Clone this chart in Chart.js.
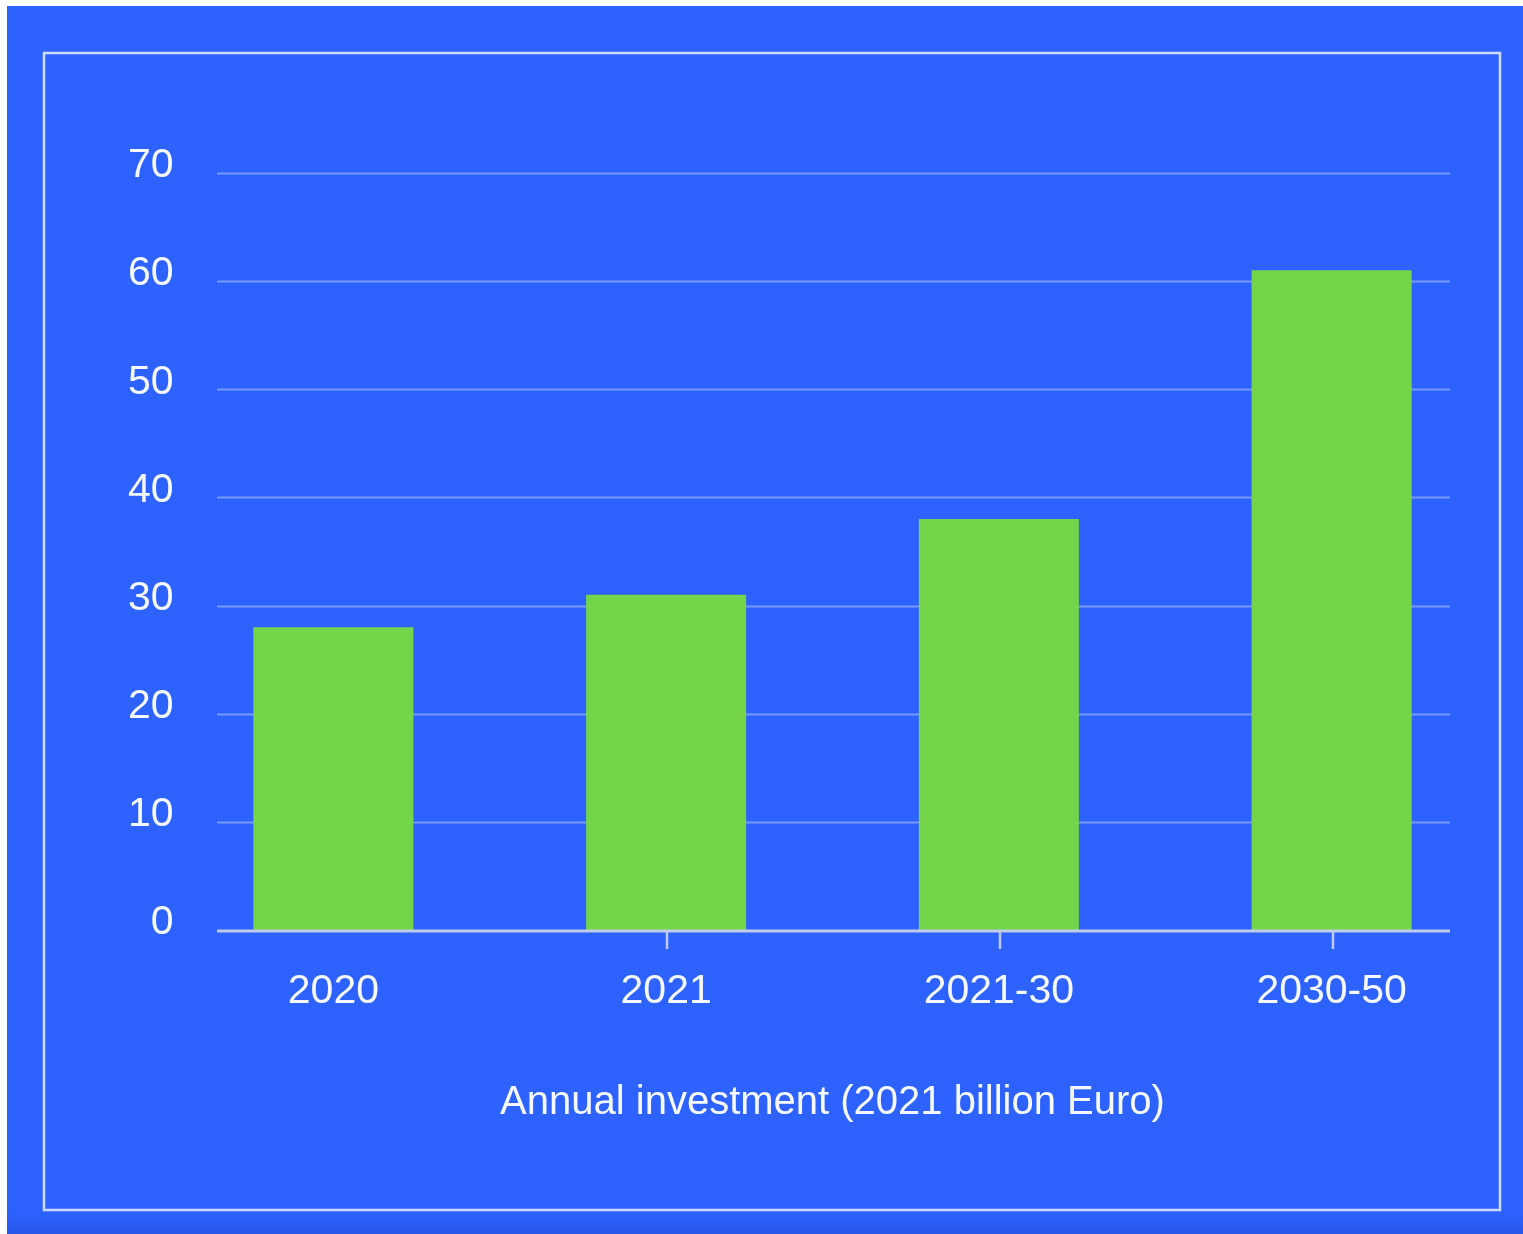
<!DOCTYPE html>
<html>
<head>
<meta charset="utf-8">
<title>Annual investment</title>
<script src="https://cdn.jsdelivr.net/npm/chart.js@4.4.1/dist/chart.umd.min.js"></script>
<style>
  html, body { margin: 0; padding: 0; background: #ffffff; }
  #wrap { position: relative; width: 1523px; height: 1234px; }
</style>
</head>
<body>
<div id="wrap"><canvas id="myChart"></canvas></div>
<script>
// values in billion euro (2021 prices)
const periods = ["2020", "2021", "2021-30", "2030-50"];
const investment = [28, 31, 38, 61];
const yTicks = [0, 10, 20, 30, 40, 50, 60, 70];
const axisTitle = "Annual investment (2021 billion Euro)";

const BLUE = "rgb(45, 98, 255)";
const GREEN = "rgb(114, 213, 74)";
const GRID = "rgba(130, 160, 255, 0.9)";
const AXIS = "rgb(192, 202, 236)";
const TEXT = "rgb(246, 248, 255)";
const FONT = "'Liberation Sans', Arial, sans-serif";

const myChart = document.getElementById("myChart");
const chartCtx = myChart.getContext("2d");

// page background, frame and the darker strip at the bottom
const backdrop = {
  id: "backdrop",
  beforeDraw(chart) {
    const { ctx, width, height } = chart;
    ctx.save();
    ctx.fillStyle = "#ffffff";
    ctx.fillRect(0, 0, width, height);
    ctx.fillStyle = BLUE;
    ctx.fillRect(7, 6, width - 7, height - 6);
    const g = ctx.createLinearGradient(0, 1212, 0, 1234);
    g.addColorStop(0, "rgba(38, 86, 230, 0)");
    g.addColorStop(1, "rgba(38, 86, 230, 0.9)");
    ctx.fillStyle = g;
    ctx.fillRect(7, 1212, width - 7, 22);
    ctx.strokeStyle = "rgb(205, 218, 255)";
    ctx.lineWidth = 2.5;
    ctx.strokeRect(44, 53, 1456, 1157);
    ctx.restore();
  },
};

// horizontal grid lines, shorter than the category band
const gridLines = {
  id: "gridLines",
  beforeDatasetsDraw(chart) {
    const { ctx, chartArea, scales } = chart;
    const x0 = chartArea.left + 50;
    const x1 = chartArea.right - 48;
    ctx.save();
    ctx.strokeStyle = GRID;
    ctx.lineWidth = 2.2;
    scales.y.ticks.forEach((t) => {
      if (t.value === 0) return;
      const y = Math.round(scales.y.getPixelForValue(t.value)) + 0.5;
      ctx.beginPath();
      ctx.moveTo(x0, y);
      ctx.lineTo(x1, y);
      ctx.stroke();
    });
    ctx.restore();
  },
  afterDatasetsDraw(chart) {
    const { ctx, chartArea, scales } = chart;
    const x0 = chartArea.left + 50;
    const x1 = chartArea.right - 48;
    const y = scales.y.getPixelForValue(0) + 1;
    ctx.save();
    ctx.strokeStyle = AXIS;
    ctx.lineWidth = 3;
    ctx.beginPath();
    ctx.moveTo(x0, y);
    ctx.lineTo(x1, y);
    ctx.stroke();
    ctx.lineWidth = 2.5;
    periods.forEach((p, i) => {
      if (i === 0) return;
      const x = Math.round(scales.x.getPixelForValue(i)) + 1;
      ctx.beginPath();
      ctx.moveTo(x, y + 1);
      ctx.lineTo(x, y + 18);
      ctx.stroke();
    });
    ctx.restore();
  },
};

window.chart = new Chart(chartCtx, {
  type: "bar",
  data: {
    labels: periods,
    datasets: [
      {
        data: investment,
        backgroundColor: GREEN,
        borderWidth: 0,
        categoryPercentage: 1,
        barPercentage: 0.481,
      },
    ],
  },
  options: {
    responsive: true,
    maintainAspectRatio: false,
    animation: false,
    layout: { padding: { left: 0, right: 25, top: 173, bottom: 0 } },
    plugins: {
      legend: { display: false },
      tooltip: { enabled: false },
    },
    scales: {
      x: {
        afterFit(scale) { scale.height = 1234 - 930; },
        grid: { display: false, drawTicks: false },
        border: { display: false },
        ticks: {
          color: TEXT,
          padding: 37,
          font: { family: FONT, size: 41 },
          maxRotation: 0,
        },
        title: {
          display: true,
          text: axisTitle,
          color: TEXT,
          font: { family: FONT, size: 40 },
          padding: { top: 0, bottom: 107 },
        },
      },
      y: {
        min: 0,
        max: 70,
        afterFit(scale) { scale.width = 167; },
        afterBuildTicks(scale) { scale.ticks = yTicks.map((v) => ({ value: v })); },
        grid: { display: false, drawTicks: false },
        border: { display: false },
        ticks: {
          color: TEXT,
          // mirrored + far-aligned keeps the labels right-aligned just past the axis box
          mirror: true,
          crossAlign: "far",
          padding: -39,
          labelOffset: -7,
          font: { family: FONT, size: 41 },
        },
      },
    },
  },
  plugins: [backdrop, gridLines],
});
</script>
</body>
</html>
